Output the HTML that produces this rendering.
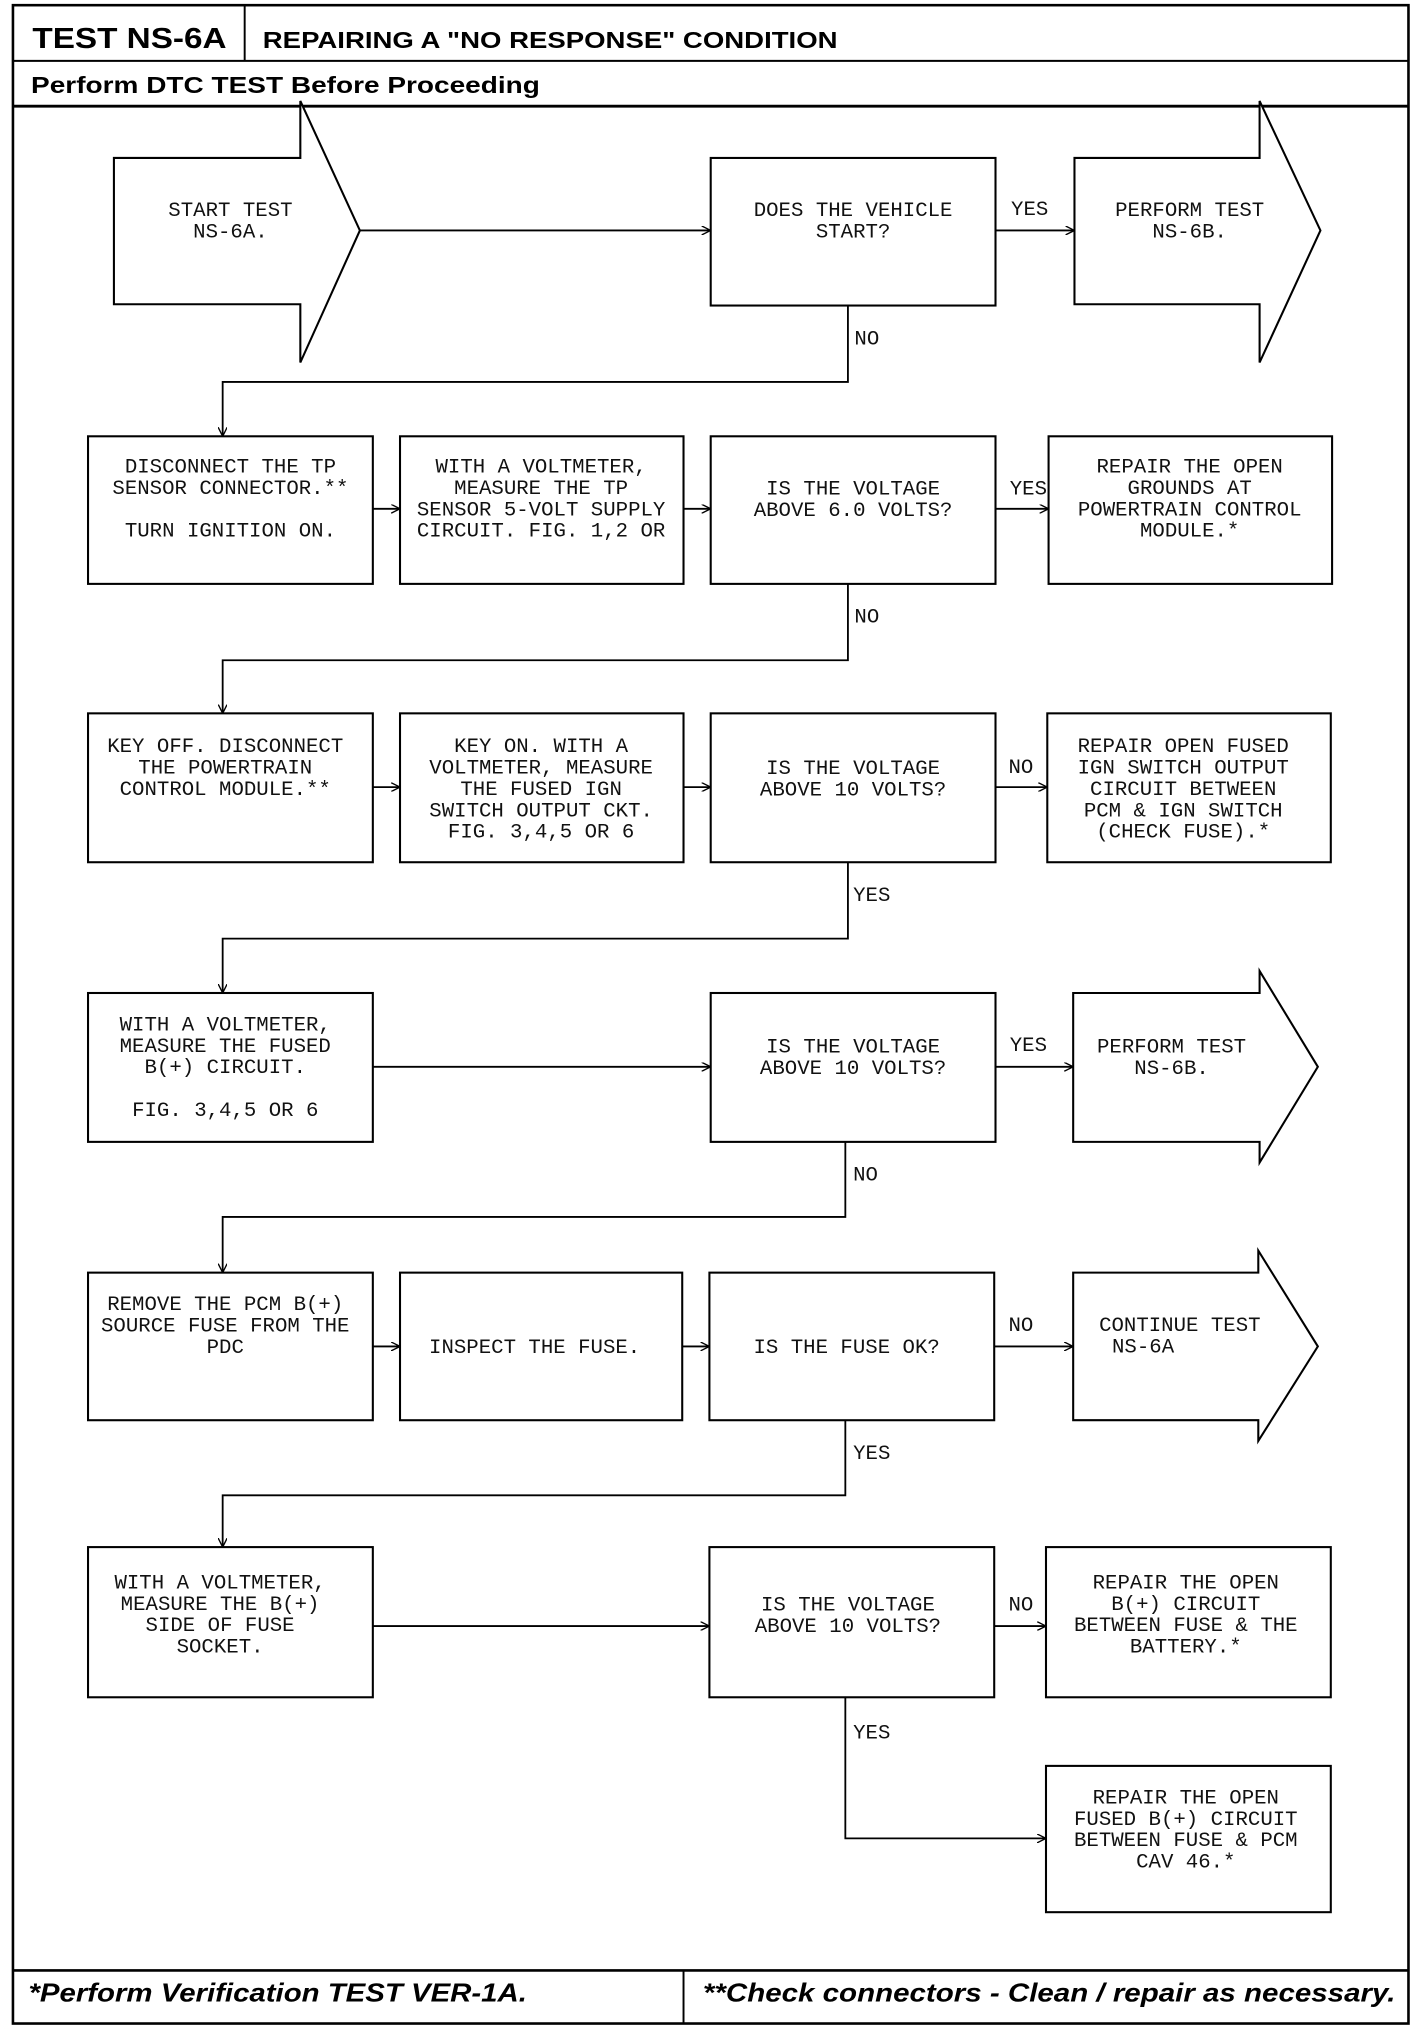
<!DOCTYPE html>
<html><head><meta charset="utf-8"><style>
html,body{margin:0;padding:0;background:#fff;}
svg{display:block;}
.t{font-family:"Liberation Mono",monospace;font-size:16px;fill:#111;}
.h{font-family:"Liberation Sans",sans-serif;font-weight:bold;fill:#000;}
.b{fill:#fff;stroke:#000;stroke-width:1.6;}
.l{fill:none;stroke:#000;stroke-width:1.4;}
</style></head><body>
<svg width="1424" height="2030" viewBox="0 0 1100 1568" preserveAspectRatio="none" xmlns="http://www.w3.org/2000/svg">
<defs><marker id="a" viewBox="0 0 10 10" refX="10" refY="5" markerWidth="7" markerHeight="7" orient="auto" markerUnits="userSpaceOnUse"><path d="M0,0 L10,5 L0,10" fill="none" stroke="#000" stroke-width="1.5"/></marker></defs>
<rect x="0" y="0" width="1100" height="1568" fill="#fff"/>
<!-- frame -->
<rect x="10" y="4" width="1078" height="1559" fill="none" stroke="#000" stroke-width="2"/>
<line x1="10" y1="47" x2="1088" y2="47" stroke="#000" stroke-width="1.5"/>
<line x1="189" y1="4" x2="189" y2="47" stroke="#000" stroke-width="1.5"/>
<line x1="10" y1="82" x2="1088" y2="82" stroke="#000" stroke-width="2.2"/>
<line x1="10" y1="1522" x2="1088" y2="1522" stroke="#000" stroke-width="2"/>
<line x1="528" y1="1522" x2="528" y2="1563" stroke="#000" stroke-width="1.5"/>
<text class="h" x="25" y="37" font-size="22" textLength="150" lengthAdjust="spacingAndGlyphs">TEST NS-6A</text>
<text class="h" x="203" y="37" font-size="18" textLength="444" lengthAdjust="spacingAndGlyphs">REPAIRING A "NO RESPONSE" CONDITION</text>
<text class="h" x="24" y="72" font-size="18" textLength="393" lengthAdjust="spacingAndGlyphs">Perform DTC TEST Before Proceeding</text>
<text class="h" x="22" y="1546" font-size="20" font-style="italic" textLength="385" lengthAdjust="spacingAndGlyphs">*Perform Verification TEST VER-1A.</text>
<text class="h" x="543" y="1546" font-size="20" font-style="italic" textLength="535" lengthAdjust="spacingAndGlyphs">**Check connectors - Clean / repair as necessary.</text>

<!-- Row1 -->
<path class="b" d="M88,122 H232 V78 L278,178 L232,280 V235 H88 Z"/>
<text class="t" text-anchor="middle" x="178" y="167">START TEST<tspan x="178" dy="16.5">NS-6A.</tspan></text>
<rect class="b" x="549" y="122" width="220" height="114"/>
<text class="t" text-anchor="middle" x="659" y="167">DOES THE VEHICLE<tspan x="659" dy="16.5">START?</tspan></text>
<path class="b" d="M830,122 H973 V78 L1020,178 L973,280 V235 H830 Z"/>
<text class="t" text-anchor="middle" x="919" y="167">PERFORM TEST<tspan x="919" dy="16.5">NS-6B.</tspan></text>
<line class="l" x1="278" y1="178" x2="549" y2="178" marker-end="url(#a)"/>
<line class="l" x1="769" y1="178" x2="830" y2="178" marker-end="url(#a)"/>
<text class="t" x="781" y="166">YES</text>
<path class="l" d="M655,236 V295 H172 V337" marker-end="url(#a)"/>
<text class="t" x="660" y="266">NO</text>

<!-- Row2 -->
<rect class="b" x="68" y="337" width="220" height="114"/>
<text class="t" text-anchor="middle" x="178" y="365">DISCONNECT THE TP<tspan x="178" dy="16.5">SENSOR CONNECTOR.**</tspan><tspan x="178" dy="33">TURN IGNITION ON.</tspan></text>
<rect class="b" x="309" y="337" width="219" height="114"/>
<text class="t" text-anchor="middle" x="418" y="365">WITH A VOLTMETER,<tspan x="418" dy="16.5">MEASURE THE TP</tspan><tspan x="418" dy="16.5">SENSOR 5-VOLT SUPPLY</tspan><tspan x="418" dy="16.5">CIRCUIT. FIG. 1,2 OR</tspan></text>
<rect class="b" x="549" y="337" width="220" height="114"/>
<text class="t" text-anchor="middle" x="659" y="382">IS THE VOLTAGE<tspan x="659" dy="16.5">ABOVE 6.0 VOLTS?</tspan></text>
<rect class="b" x="810" y="337" width="219" height="114"/>
<text class="t" text-anchor="middle" x="919" y="365">REPAIR THE OPEN<tspan x="919" dy="16.5">GROUNDS AT</tspan><tspan x="919" dy="16.5">POWERTRAIN CONTROL</tspan><tspan x="919" dy="16.5">MODULE.*</tspan></text>
<line class="l" x1="288" y1="393" x2="309" y2="393" marker-end="url(#a)"/>
<line class="l" x1="528" y1="393" x2="549" y2="393" marker-end="url(#a)"/>
<line class="l" x1="769" y1="393" x2="810" y2="393" marker-end="url(#a)"/>
<text class="t" x="780" y="382">YES</text>
<path class="l" d="M655,451 V510 H172 V551" marker-end="url(#a)"/>
<text class="t" x="660" y="481">NO</text>

<!-- Row3 -->
<rect class="b" x="68" y="551" width="220" height="115"/>
<text class="t" text-anchor="middle" x="174" y="581">KEY OFF. DISCONNECT<tspan x="174" dy="16.5">THE POWERTRAIN</tspan><tspan x="174" dy="16.5">CONTROL MODULE.**</tspan></text>
<rect class="b" x="309" y="551" width="219" height="115"/>
<text class="t" text-anchor="middle" x="418" y="581">KEY ON. WITH A<tspan x="418" dy="16.5">VOLTMETER, MEASURE</tspan><tspan x="418" dy="16.5">THE FUSED IGN</tspan><tspan x="418" dy="16.5">SWITCH OUTPUT CKT.</tspan><tspan x="418" dy="16.5">FIG. 3,4,5 OR 6</tspan></text>
<rect class="b" x="549" y="551" width="220" height="115"/>
<text class="t" text-anchor="middle" x="659" y="598">IS THE VOLTAGE<tspan x="659" dy="16.5">ABOVE 10 VOLTS?</tspan></text>
<rect class="b" x="809" y="551" width="219" height="115"/>
<text class="t" text-anchor="middle" x="914" y="581">REPAIR OPEN FUSED<tspan x="914" dy="16.5">IGN SWITCH OUTPUT</tspan><tspan x="914" dy="16.5">CIRCUIT BETWEEN</tspan><tspan x="914" dy="16.5">PCM &amp; IGN SWITCH</tspan><tspan x="914" dy="16.5">(CHECK FUSE).*</tspan></text>
<line class="l" x1="288" y1="608" x2="309" y2="608" marker-end="url(#a)"/>
<line class="l" x1="528" y1="608" x2="549" y2="608" marker-end="url(#a)"/>
<line class="l" x1="769" y1="608" x2="809" y2="608" marker-end="url(#a)"/>
<text class="t" x="779" y="597">NO</text>
<path class="l" d="M655,666 V725 H172 V767" marker-end="url(#a)"/>
<text class="t" x="659" y="696">YES</text>

<!-- Row4 -->
<rect class="b" x="68" y="767" width="220" height="115"/>
<text class="t" text-anchor="middle" x="174" y="796">WITH A VOLTMETER,<tspan x="174" dy="16.5">MEASURE THE FUSED</tspan><tspan x="174" dy="16.5">B(+) CIRCUIT.</tspan><tspan x="174" dy="33">FIG. 3,4,5 OR 6</tspan></text>
<rect class="b" x="549" y="767" width="220" height="115"/>
<text class="t" text-anchor="middle" x="659" y="813">IS THE VOLTAGE<tspan x="659" dy="16.5">ABOVE 10 VOLTS?</tspan></text>
<path class="b" d="M829,767 H973 V750 L1018,824 L973,898 V882 H829 Z"/>
<text class="t" text-anchor="middle" x="905" y="813">PERFORM TEST<tspan x="905" dy="16.5">NS-6B.</tspan></text>
<line class="l" x1="288" y1="824" x2="549" y2="824" marker-end="url(#a)"/>
<line class="l" x1="769" y1="824" x2="829" y2="824" marker-end="url(#a)"/>
<text class="t" x="780" y="812">YES</text>
<path class="l" d="M653,882 V940 H172 V983" marker-end="url(#a)"/>
<text class="t" x="659" y="912">NO</text>

<!-- Row5 -->
<rect class="b" x="68" y="983" width="220" height="114"/>
<text class="t" text-anchor="middle" x="174" y="1012">REMOVE THE PCM B(+)<tspan x="174" dy="16.5">SOURCE FUSE FROM THE</tspan><tspan x="174" dy="16.5">PDC</tspan></text>
<rect class="b" x="309" y="983" width="218" height="114"/>
<text class="t" text-anchor="middle" x="413" y="1045">INSPECT THE FUSE.</text>
<rect class="b" x="548" y="983" width="220" height="114"/>
<text class="t" text-anchor="middle" x="654" y="1045">IS THE FUSE OK?</text>
<path class="b" d="M829,983 H972 V966 L1018,1040 L972,1113 V1097 H829 Z"/>
<text class="t" x="849" y="1028">CONTINUE TEST<tspan x="859" dy="16.5">NS-6A</tspan></text>
<line class="l" x1="288" y1="1040" x2="309" y2="1040" marker-end="url(#a)"/>
<line class="l" x1="527" y1="1040" x2="548" y2="1040" marker-end="url(#a)"/>
<line class="l" x1="768" y1="1040" x2="829" y2="1040" marker-end="url(#a)"/>
<text class="t" x="779" y="1028">NO</text>
<path class="l" d="M653,1097 V1155 H172 V1195" marker-end="url(#a)"/>
<text class="t" x="659" y="1127">YES</text>

<!-- Row6 -->
<rect class="b" x="68" y="1195" width="220" height="116"/>
<text class="t" text-anchor="middle" x="170" y="1227">WITH A VOLTMETER,<tspan x="170" dy="16.5">MEASURE THE B(+)</tspan><tspan x="170" dy="16.5">SIDE OF FUSE</tspan><tspan x="170" dy="16.5">SOCKET.</tspan></text>
<rect class="b" x="548" y="1195" width="220" height="116"/>
<text class="t" text-anchor="middle" x="655" y="1244">IS THE VOLTAGE<tspan x="655" dy="16.5">ABOVE 10 VOLTS?</tspan></text>
<rect class="b" x="808" y="1195" width="220" height="116"/>
<text class="t" text-anchor="middle" x="916" y="1227">REPAIR THE OPEN<tspan x="916" dy="16.5">B(+) CIRCUIT</tspan><tspan x="916" dy="16.5">BETWEEN FUSE &amp; THE</tspan><tspan x="916" dy="16.5">BATTERY.*</tspan></text>
<line class="l" x1="288" y1="1256" x2="548" y2="1256" marker-end="url(#a)"/>
<line class="l" x1="768" y1="1256" x2="808" y2="1256" marker-end="url(#a)"/>
<text class="t" x="779" y="1244">NO</text>
<path class="l" d="M653,1311 V1420 H808" marker-end="url(#a)"/>
<text class="t" x="659" y="1343">YES</text>
<rect class="b" x="808" y="1364" width="220" height="113"/>
<text class="t" text-anchor="middle" x="916" y="1393">REPAIR THE OPEN<tspan x="916" dy="16.5">FUSED B(+) CIRCUIT</tspan><tspan x="916" dy="16.5">BETWEEN FUSE &amp; PCM</tspan><tspan x="916" dy="16.5">CAV 46.*</tspan></text>
</svg>
</body></html>
